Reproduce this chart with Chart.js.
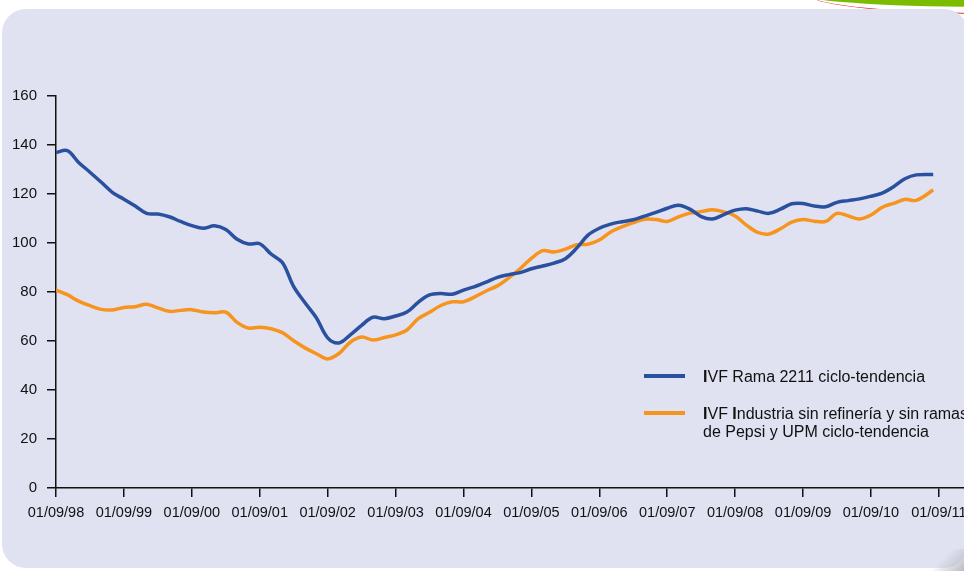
<!DOCTYPE html>
<html>
<head>
<meta charset="utf-8">
<script src="https://cdn.jsdelivr.net/npm/chart.js@4"></script>
<style>
  html, body { margin: 0; padding: 0; background: #fff; }
  body { width: 964px; height: 571px; overflow: hidden; position: relative; font-family: "Liberation Sans", Arial, sans-serif; }
  .panel { position: absolute; left: 2px; top: 9px; width: 966px; height: 559px; background: #e0e2f1; border-radius: 24px; }
  .shade { position: absolute; right: 0; bottom: 0; width: 40px; height: 22px; background: linear-gradient(135deg, rgba(224,226,241,0) 45%, #b9bac3 100%); }
  .leaf { position: absolute; left: 810px; top: -15px; width: 380px; height: 22px; border-radius: 50%; background: #7cbc00; }
  .redline { position: absolute; left: 810px; top: -24px; width: 380px; height: 38px; border-radius: 50%; border-bottom: 1.5px solid #e2372b; box-sizing: border-box; }
  #wrap { position: absolute; left: 0; top: 0; width: 1000px; height: 571px; }
  .legend { position: absolute; left: 644px; color: #111; font-size: 16px; line-height: 18px; }
  .legend .swatch { position: absolute; left: 0; width: 41px; height: 4px; }
  .legend .txt { position: absolute; left: 59px; white-space: nowrap; }
</style>
</head>
<body>
<div class="redline"></div>
<div class="leaf"></div>
<div class="panel"></div>
<div class="shade"></div>
<div id="wrap"><canvas id="chart" width="1000" height="571"></canvas></div>
<div class="legend" style="top:374px">
  <div class="swatch" style="background:#2a50a0;top:0"></div>
  <div class="txt" style="top:-6px"><b>I</b>VF Rama 2211 ciclo-tendencia</div>
</div>
<div class="legend" style="top:411px">
  <div class="swatch" style="background:#f7941d;top:0"></div>
  <div class="txt" style="top:-6px"><b>I</b>VF <b>I</b>ndustria sin refinería y sin ramas<br>de Pepsi y UPM ciclo-tendencia</div>
</div>
<script>
// months since 01/09/98, sampled every two months
const months = [0, 2, 4, 6, 8, 10, 12, 14, 16, 18, 20, 22, 24, 26, 28, 30, 32, 34, 36, 38,
    40, 42, 44, 46, 48, 50, 52, 54, 56, 58, 60, 62, 64, 66, 68, 70, 72, 74, 76, 78,
    80, 82, 84, 86, 88, 90, 92, 94, 96, 98, 100, 102, 104, 106, 108, 110, 112, 114, 116, 118,
    120, 122, 124, 126, 128, 130, 132, 134, 136, 138, 140, 142, 144, 146, 148, 150, 152, 155];

const rama2211 = [136.9, 137.7, 132.9, 128.9, 124.8, 120.6, 117.9, 115.1, 112.1, 111.8,
    110.7, 108.8, 107.1, 106.0, 107.0, 105.5, 101.5, 99.6, 99.7, 95.5,
    92.0, 82.2, 75.6, 69.5, 61.3, 59.2, 62.5, 66.4, 69.7, 69.1,
    70.2, 71.8, 75.8, 78.8, 79.4, 79.1, 80.8, 82.2, 84.0, 86.0,
    87.1, 87.9, 89.5, 90.6, 91.8, 93.6, 97.9, 103.2, 106.0, 107.7,
    108.7, 109.5, 111.0, 112.5, 114.2, 115.4, 113.8, 110.8, 109.8, 111.6,
    113.4, 114.0, 113.0, 112.1, 113.8, 116.0, 116.1, 115.1, 114.8, 116.6,
    117.3, 118.0, 119.1, 120.4, 123.0, 126.2, 127.8, 128.0];

const industria = [80.8, 78.9, 76.3, 74.4, 72.9, 72.7, 73.7, 74.0, 75.0, 73.5,
    72.1, 72.5, 72.8, 71.8, 71.5, 71.8, 67.6, 65.3, 65.6, 65.0,
    63.4, 60.1, 57.2, 54.8, 52.7, 54.9, 59.5, 61.6, 60.4, 61.4,
    62.5, 64.5, 69.1, 71.7, 74.5, 76.0, 76.0, 78.0, 80.4, 82.5,
    85.8, 89.5, 93.7, 96.9, 96.3, 97.5, 99.3, 99.5, 101.2, 104.5,
    106.6, 108.3, 109.7, 109.6, 108.8, 110.7, 112.2, 112.8, 113.6, 112.7,
    111.0, 107.3, 104.3, 103.7, 105.8, 108.5, 109.6, 108.9, 108.8, 112.1,
    111.0, 109.8, 111.4, 114.6, 116.2, 117.8, 117.4, 121.6];

const xTickLabels = ["01/09/98", "01/09/99", "01/09/00", "01/09/01", "01/09/02", "01/09/03", "01/09/04",
    "01/09/05", "01/09/06", "01/09/07", "01/09/08", "01/09/09", "01/09/10", "01/09/11"];
const yTicks = [0, 20, 40, 60, 80, 100, 120, 140, 160];

const toPoints = vals => vals.map((v, i) => ({ x: months[i], y: v }));
const fontFamily = "'Liberation Sans', Arial, sans-serif";

new Chart(document.getElementById("chart"), {
    type: "line",
    data: {
        datasets: [{
            label: "IVF Rama 2211 ciclo-tendencia",
            data: toPoints(rama2211),
            borderColor: "#2a50a0",
            borderWidth: 3.5,
            pointRadius: 0,
            tension: 0.35
        }, {
            label: "IVF Industria sin refinería y sin ramas de Pepsi y UPM ciclo-tendencia",
            data: toPoints(industria),
            borderColor: "#f7941d",
            borderWidth: 3.5,
            pointRadius: 0,
            tension: 0.35
        }]
    },
    options: {
        responsive: false,
        animation: false,
        layout: { padding: { top: 96, left: 0, right: 0, bottom: 0 } },
        plugins: { legend: { display: false }, tooltip: { enabled: false } },
        scales: {
            x: {
                type: "linear",
                min: 0,
                max: 166.8,
                // one tick per year (every 12 months)
                afterBuildTicks: scale => {
                    scale.ticks = xTickLabels.map((_, i) => ({ value: i * 12 }));
                },
                afterFit: scale => { scale.height = 83; },
                ticks: {
                    autoSkip: false,
                    maxRotation: 0,
                    padding: 7,
                    color: "#111",
                    font: { family: fontFamily, size: 14.5 },
                    callback: v => xTickLabels[Math.round(v / 12)]
                },
                grid: { drawOnChartArea: false, drawTicks: true, tickLength: 9, color: "#111", lineWidth: 1.5 },
                border: { color: "#111", width: 1.5 }
            },
            y: {
                min: 0,
                max: 160,
                afterBuildTicks: scale => {
                    scale.ticks = yTicks.map(v => ({ value: v }));
                },
                afterFit: scale => { scale.width = 56; },
                ticks: { padding: 10, color: "#111", font: { family: fontFamily, size: 15 } },
                grid: { drawOnChartArea: false, drawTicks: true, tickLength: 9, color: "#111", lineWidth: 1.5 },
                border: { color: "#111", width: 1.5 }
            }
        }
    }
});
</script>
</body>
</html>
